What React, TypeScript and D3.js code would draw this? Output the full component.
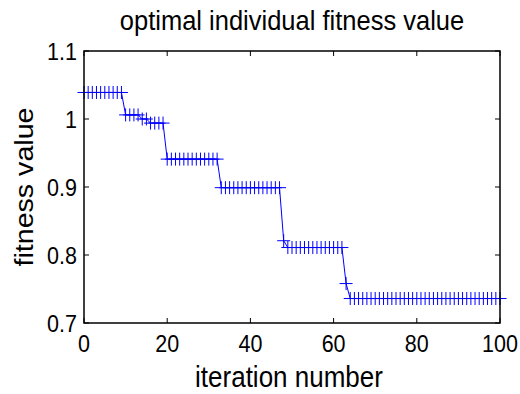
import React, { useEffect, useRef } from "react";
import * as d3 from "d3";

// best fitness per generation (generation = index, 0..100)
const fitness: number[] = [
  1.039, 1.039, 1.039, 1.039, 1.039, 1.039, 1.039, 1.039, 1.039, 1.039,
  1.006, 1.006, 1.006, 1.006, 1.0, 1.0, 0.994, 0.994, 0.994, 0.994,
  0.941, 0.941, 0.941, 0.941, 0.941, 0.941, 0.941, 0.941, 0.941, 0.941,
  0.941, 0.941, 0.941, 0.899, 0.899, 0.899, 0.899, 0.899, 0.899, 0.899,
  0.899, 0.899, 0.899, 0.899, 0.899, 0.899, 0.899, 0.899, 0.821, 0.811,
  0.811, 0.811, 0.811, 0.811, 0.811, 0.811, 0.811, 0.811, 0.811, 0.811,
  0.811, 0.811, 0.811, 0.758, 0.736, 0.736, 0.736, 0.736, 0.736, 0.736,
  0.736, 0.736, 0.736, 0.736, 0.736, 0.736, 0.736, 0.736, 0.736, 0.736,
  0.736, 0.736, 0.736, 0.736, 0.736, 0.736, 0.736, 0.736, 0.736, 0.736,
  0.736, 0.736, 0.736, 0.736, 0.736, 0.736, 0.736, 0.736, 0.736, 0.736,
  0.736,
];

const xTicks = [0, 20, 40, 60, 80, 100];
const yTicks = [0.7, 0.8, 0.9, 1.0, 1.1];

const title = "optimal individual fitness value";
const xLabel = "iteration number";
const yLabel = "fitness value";

const App: React.FC = () => {
  const svgRef = useRef<SVGSVGElement | null>(null);

  useEffect(() => {
    if (!svgRef.current) return;
    const svg = d3.select(svgRef.current);
    svg.selectAll("*").remove();

    const left = 84;
    const right = 500;
    const top = 51;
    const bottom = 323;
    const font = "Arial, 'Liberation Sans', sans-serif";
    const stretch = 1.1; // source glyphs look a bit tall

    const x = d3.scaleLinear().domain([0, 100]).range([left, right]);
    const y = d3.scaleLinear().domain([0.7, 1.1]).range([bottom, top]);

    const data = fitness.map((v, i) => ({ it: i, v }));

    // line
    svg
      .append("path")
      .datum(data)
      .attr("fill", "none")
      .attr("stroke", "#0000ff")
      .attr("stroke-width", 1)
      .attr(
        "d",
        d3
          .line<{ it: number; v: number }>()
          .x((d) => x(d.it))
          .y((d) => y(d.v))
      );

    // + markers
    const m = 6.5;
    svg
      .append("g")
      .selectAll("path")
      .data(data)
      .join("path")
      .attr("fill", "none")
      .attr("stroke", "#0000ff")
      .attr("stroke-width", 1)
      .attr("d", (d) => {
        const cx = x(d.it);
        const cy = y(d.v);
        return `M${cx - m},${cy}H${cx + m}M${cx},${cy - m}V${cy + m}`;
      });

    // box
    svg
      .append("rect")
      .attr("x", left)
      .attr("y", top)
      .attr("width", right - left)
      .attr("height", bottom - top)
      .attr("fill", "none")
      .attr("stroke", "#000")
      .attr("stroke-width", 1.5);

    const tl = 5;
    const ticks = svg.append("g").attr("stroke", "#000").attr("stroke-width", 1);
    xTicks.forEach((t) => {
      ticks.append("line").attr("x1", x(t)).attr("x2", x(t)).attr("y1", bottom).attr("y2", bottom - tl);
      ticks.append("line").attr("x1", x(t)).attr("x2", x(t)).attr("y1", top).attr("y2", top + tl);
    });
    yTicks.forEach((t) => {
      ticks.append("line").attr("x1", left).attr("x2", left + tl).attr("y1", y(t)).attr("y2", y(t));
      ticks.append("line").attr("x1", right).attr("x2", right - tl).attr("y1", y(t)).attr("y2", y(t));
    });

    svg
      .append("g")
      .selectAll("text")
      .data(xTicks)
      .join("text")
      .attr("transform", (d) => `translate(${x(d)},352) scale(1,${stretch})`)
      .attr("text-anchor", "middle")
      .attr("font-family", font)
      .attr("font-size", 21.5)
      .text((d) => String(d));

    svg
      .append("g")
      .selectAll("text")
      .data(yTicks)
      .join("text")
      .attr("transform", (d) => `translate(77,${y(d) + 8.5}) scale(1,${stretch})`)
      .attr("text-anchor", "end")
      .attr("font-family", font)
      .attr("font-size", 21.5)
      .text((d) => (d === 1 ? "1" : d3.format(".1f")(d)));

    svg
      .append("text")
      .attr("transform", `translate(${(left + right) / 2},30) scale(1,${stretch})`)
      .attr("text-anchor", "middle")
      .attr("font-family", font)
      .attr("font-size", 25.5)
      .text(title);

    svg
      .append("text")
      .attr("transform", `translate(289,387) scale(1,${stretch})`)
      .attr("text-anchor", "middle")
      .attr("font-family", font)
      .attr("font-size", 26)
      .text(xLabel);

    svg
      .append("text")
      .attr("transform", `translate(33,187) rotate(-90) scale(${stretch},1)`)
      .attr("text-anchor", "middle")
      .attr("font-family", font)
      .attr("font-size", 26)
      .text(yLabel);
  }, []);

  return (
    <svg
      ref={svgRef}
      width={520}
      height={394}
      style={{ position: "absolute", left: 0, top: 0, background: "#fff" }}
    />
  );
};

export default App;
